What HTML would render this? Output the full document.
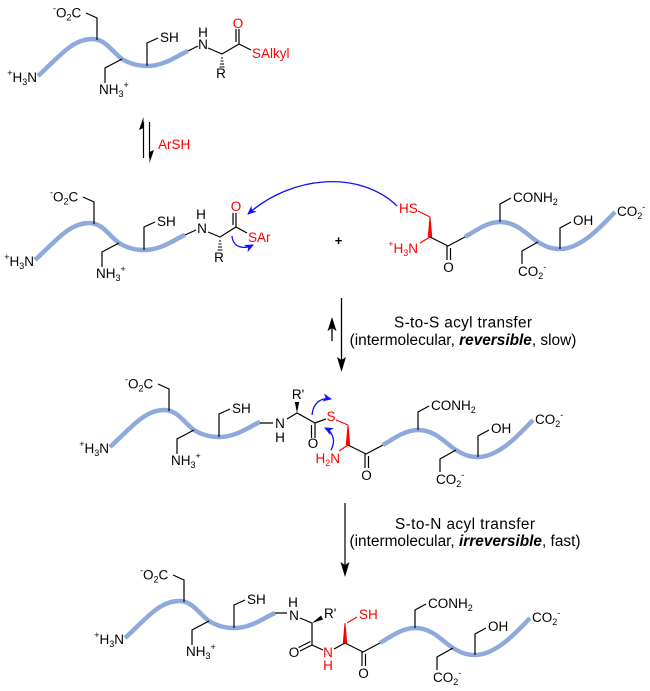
<!DOCTYPE html>
<html><head><meta charset="utf-8">
<style>
html,body{margin:0;padding:0;background:#fff;}
svg{display:block;}
text{font-family:"Liberation Sans",Arial,sans-serif;}
</style></head><body>
<svg width="650" height="691" viewBox="0 0 650 691" xmlns="http://www.w3.org/2000/svg" font-family="Liberation Sans, Arial, sans-serif">
<defs>
<marker id="bh" markerUnits="userSpaceOnUse" markerWidth="12" markerHeight="10" refX="8" refY="4" orient="auto"><path d="M0,0 L9,4 L0,8 L2.5,4 Z" fill="#1010ff"/></marker>
<g id="L" font-family="Liberation Sans, Arial, sans-serif" font-size="13.5">
 <path d="M38,76 C58,58 72,39 92,39 C106,39 112,52 122,59 C130,64 138,66 147,66 C165,66 178,55 188,51" fill="none" stroke="#8EA9DB" stroke-width="4.5"/>
 <path d="M86,13 L97,18 L97,40 M122,59 L105,68 L105,83 M147,66 L147,43 L158,38" fill="none" stroke="#000" stroke-width="1.2"/>
 <text x="37" y="82" text-anchor="end"><tspan font-size="9" dy="-6">+</tspan><tspan dy="6">H</tspan><tspan font-size="9" dy="3">3</tspan><tspan dy="-3">N</tspan></text>
 <text x="53" y="17.5"><tspan font-size="9" dy="-6">-</tspan><tspan dy="6">O</tspan><tspan font-size="9" dy="3">2</tspan><tspan dy="-3">C</tspan></text>
 <text x="99" y="94"><tspan>NH</tspan><tspan font-size="9" dy="3">3</tspan><tspan font-size="9" dy="-9">+</tspan></text>
 <text x="160" y="42">SH</text>
</g>
<g id="R" font-family="Liberation Sans, Arial, sans-serif" font-size="13.5">
 <path d="M465,237 C478,229 488,222 500,222 C518,222 528,236 538,242 C546,247 552,249 560,249 C580,249 600,228 615,212" fill="none" stroke="#8EA9DB" stroke-width="4.5"/>
 <path d="M430,237 L448,246 L465,237 M447,246 L447,260 M450.5,248 L450.5,260 M500,222 L500,204 L511,198 M538,242 L522,251 L522,264 M560,249 L560,228 L571,222" fill="none" stroke="#000" stroke-width="1.2"/>
 <polygon points="429.5,217 430.5,217 432.2,237 427.8,237" fill="#ff0000"/>
 <text x="448.5" y="272" text-anchor="middle">O</text>
 <text x="513" y="202">CONH<tspan font-size="9" dy="3">2</tspan></text>
 <text x="518" y="276">CO<tspan font-size="9" dy="3">2</tspan><tspan font-size="9" dy="-9">-</tspan></text>
 <text x="573" y="225">OH</text>
 <text x="617" y="216">CO<tspan font-size="9" dy="3">2</tspan><tspan font-size="9" dy="-9">-</tspan></text>
</g>
</defs>

<!-- ===== Structure 1 ===== -->
<use href="#L"/>
<g font-size="13.5">
 <path d="M188,51 L198,46 M208,48 L222,54 L239,44 L251,50 M239,44 L239,29 M236,42 L236,29" fill="none" stroke="#000" stroke-width="1.2"/>
 <path d="M221,58 L223,58 M220.5,61 L223.5,61 M220,64 L224,64 M219.5,67 L224.5,67" stroke="#000" stroke-width="1"/>
 <text x="203" y="49" text-anchor="middle">N</text>
 <text x="203" y="37" text-anchor="middle">H</text>
 <text x="221" y="78" text-anchor="middle">R</text>
 <text x="238" y="28" text-anchor="middle" fill="#ff0000">O</text>
 <text x="252" y="58" fill="#ff0000">SAlkyl</text>
</g>

<!-- equilibrium arrow -->
<path d="M143.5,158 L143.5,122 M149.5,122 L149.5,158" stroke="#000" stroke-width="1.2"/>
<path d="M143.5,117 L139,130 L143.5,128 Z" fill="#000"/>
<path d="M149.5,163 L154,150 L149.5,152 Z" fill="#000"/>
<text x="158" y="149" font-size="13.5" fill="#ff0000">ArSH</text>

<!-- ===== Structure 2 ===== -->
<use href="#L" transform="translate(-3,184)"/>
<g font-size="13.5">
 <path d="M185,235 L196,230 M208,232 L220,237 L236,227 L247,233 M236,227 L236,213 M233,225 L233,213" fill="none" stroke="#000" stroke-width="1.2"/>
 <path d="M219,241 L221,241 M218.5,244 L221.5,244 M218,247 L222,247 M217.5,250 L222.5,250" stroke="#000" stroke-width="1"/>
 <text x="202" y="233" text-anchor="middle">N</text>
 <text x="201" y="219" text-anchor="middle">H</text>
 <text x="219" y="262" text-anchor="middle">R</text>
 <text x="236" y="211" text-anchor="middle" fill="#ff0000">O</text>
 <text x="248" y="242" fill="#ff0000">SAr</text>
 <path d="M232,236 C233,247 243,250 253,245" fill="none" stroke="#1010ff" stroke-width="1.3" marker-end="url(#bh)"/>
 <path d="M397,206 C360,170 292,175 248,214" fill="none" stroke="#1010ff" stroke-width="1.3" marker-end="url(#bh)"/>
 <text x="338.5" y="245" text-anchor="middle" font-weight="bold" font-size="13">+</text>
 <text x="399" y="213" fill="#ff0000">HS</text>
 <path d="M418,211 L430,217 M430,237 L420,243" stroke="#ff0000" stroke-width="1.2" fill="none"/>
 <text x="418" y="253" text-anchor="end" fill="#ff0000"><tspan font-size="9" dy="-6">+</tspan><tspan dy="6">H</tspan><tspan font-size="9" dy="3">3</tspan><tspan dy="-3">N</tspan></text>
</g>
<use href="#R"/>

<!-- arrow 2 -->
<path d="M341.5,298 L341.5,362 M332,341 L332,328" stroke="#000" stroke-width="1.3"/>
<path d="M341.5,372 L337,357 L341.5,360 L346,357 Z" fill="#000"/>
<path d="M332,317 L327.5,331 L332,328 L336.5,331 Z" fill="#000"/>
<text x="463" y="327.5" text-anchor="middle" font-size="15.4" textLength="138">S-to-S acyl transfer</text>
<text x="463" y="345" text-anchor="middle" font-size="15.4">(intermolecular, <tspan font-weight="bold" font-style="italic">reversible</tspan>, slow)</text>

<!-- ===== Structure 3 ===== -->
<use href="#L" transform="translate(72,371)"/>
<g font-size="13.5">
 <path d="M260,423 L273,423 M287,419 L297,413 L315,423 L326,419 M315,423 L315,438 M311.5,425 L311.5,438" fill="none" stroke="#000" stroke-width="1.2"/>
 <polygon points="297,413 294.8,402 299.2,402" fill="#000"/>
 <text x="280" y="428" text-anchor="middle">N</text>
 <text x="280" y="442" text-anchor="middle">H</text>
 <text x="298" y="399" text-anchor="middle">R'</text>
 <text x="313" y="448" text-anchor="middle">O</text>
 <text x="331" y="421" text-anchor="middle" fill="#ff0000">S</text>
 <path d="M336,420 L348,425 M348,445 L339,451" stroke="#ff0000" stroke-width="1.2" fill="none"/>
 <text x="340" y="463" text-anchor="end" fill="#ff0000">H<tspan font-size="9" dy="3">2</tspan><tspan dy="-3">N</tspan></text>
 <path d="M312,415 C313,403 321,397 331,399" fill="none" stroke="#1010ff" stroke-width="1.3" marker-end="url(#bh)"/>
 <path d="M331,450 C336,441 333,432 325,428" fill="none" stroke="#1010ff" stroke-width="1.3" marker-end="url(#bh)"/>
</g>
<use href="#R" transform="translate(-82,208)"/>

<!-- arrow 3 -->
<path d="M345,503 L345,567" stroke="#000" stroke-width="1.2"/>
<path d="M345,577 L340.5,562 L345,565 L349.5,562 Z" fill="#000"/>
<text x="465" y="529" text-anchor="middle" font-size="15.4" textLength="140">S-to-N acyl transfer</text>
<text x="465" y="546" text-anchor="middle" font-size="15.4">(intermolecular, <tspan font-weight="bold" font-style="italic">irreversible</tspan>, fast)</text>

<!-- ===== Structure 4 ===== -->
<use href="#L" transform="translate(87,562)"/>
<g font-size="13.5">
 <path d="M275,613 L287,613 M300,618 L312,623 L312,645 L323,650 M334,649 L345,643 M312,645 L300,651 M310.5,641.5 L298.5,647.5" fill="none" stroke="#000" stroke-width="1.2"/>
 <polygon points="312,623 321,615.5 323,619.5" fill="#000"/>
 <text x="294" y="620" text-anchor="middle">N</text>
 <text x="293" y="607" text-anchor="middle">H</text>
 <text x="324" y="618">R'</text>
 <text x="294" y="657" text-anchor="middle">O</text>
 <text x="328" y="657" text-anchor="middle" fill="#ff0000">N</text>
 <text x="328" y="670" text-anchor="middle" fill="#ff0000">H</text>
 <path d="M347,623 L357,617" stroke="#ff0000" stroke-width="1.2"/>
 <text x="359" y="619" fill="#ff0000">SH</text>
</g>
<use href="#R" transform="translate(-85,406)"/>
</svg>
</body></html>
